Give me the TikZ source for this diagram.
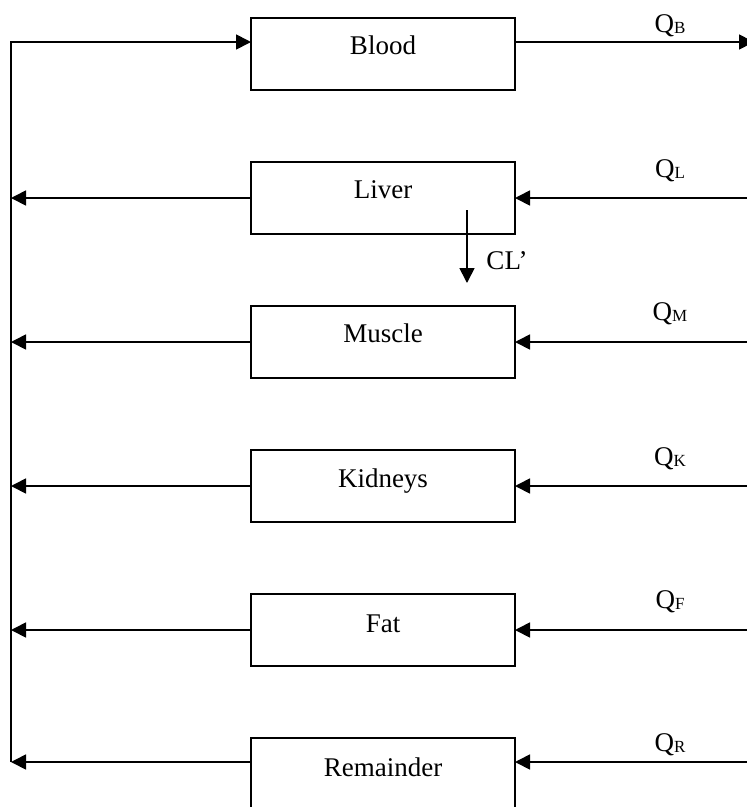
\documentclass[tikz,border=0pt]{standalone}
\usepackage{fontspec}
\setmainfont{Liberation Serif}
\usetikzlibrary{arrows.meta}
\newcommand\qsub[1]{Q\raisebox{-1.5pt}{\fontsize{17}{17}\selectfont #1}}
\begin{document}
\begin{tikzpicture}[x=1pt,y=-1pt,
  organ/.style={draw,line width=1.7pt,minimum width=264pt,minimum height=72pt,inner sep=0pt,outer sep=0pt},
  organname/.style={font=\fontsize{27}{30}\selectfont,anchor=base,inner sep=0pt},
  flow/.style={line width=1.7pt,-{Triangle[length=15pt,width=15pt]}},
  qlbl/.style={font=\fontsize{27}{30}\selectfont,anchor=base,inner sep=0pt}]
\useasboundingbox (0,0) rectangle (747,807);
\clip (0,0) rectangle (747,807);

% boxes
\node[organ] (blood)  at (383,54)  {};
\node[organ] (liver)  at (383,198) {};
\node[organ] (muscle) at (383,342) {};
\node[organ] (kidney) at (383,486) {};
\node[organ] (fat)    at (383,630) {};
\node[organ] (rem)    at (383,774) {};

% box texts
\node[organname] (tB) at (383,54)  {Blood};
\node[organname] (tL) at (383,198) {Liver};
\node[organname] (tM) at (383,342) {Muscle};
\node[organname] (tK) at (383,487) {Kidneys};
\node[organname] (tF) at (383,632) {Fat};
\node[organname] (tR) at (383,776) {Remainder};

% left collector line coordinates
\coordinate (vB) at (11,42);
\coordinate (vL) at (11,198);
\coordinate (vM) at (11,342);
\coordinate (vK) at (11,486);
\coordinate (vF) at (11,630);
\coordinate (vR) at (11,762);

% right-side inflow coordinates
\coordinate (oB) at (754,42);
\coordinate (iL) at (747,198);
\coordinate (iM) at (747,342);
\coordinate (iK) at (747,486);
\coordinate (iF) at (747,630);
\coordinate (iR) at (747,762);

% return to blood
\draw[flow] (vR) -- (vB) -- (vB -| blood.west);
% blood outflow
\draw[flow] (vB -| blood.east) -- (oB);

% organ outflows to collector
\draw[flow] (liver.west)  -- (vL);
\draw[flow] (muscle.west) -- (vM);
\draw[flow] (kidney.west) -- (vK);
\draw[flow] (fat.west)    -- (vF);
\draw[flow] (vR -| rem.west) -- (vR);

% inflows
\draw[flow] (iL) -- (liver.east);
\draw[flow] (iM) -- (muscle.east);
\draw[flow] (iK) -- (kidney.east);
\draw[flow] (iF) -- (fat.east);
\draw[flow] (iR) -- (iR -| rem.east);

% flow labels
\node[qlbl] (qB) at (670,32)  {\qsub{B}};
\node[qlbl] (qL) at (670,177) {\qsub{L}};
\node[qlbl] (qM) at (670,320) {\qsub{M}};
\node[qlbl] (qK) at (670,465) {\qsub{K}};
\node[qlbl] (qF) at (670,608) {\qsub{F}};
\node[qlbl] (qR) at (670,751) {\qsub{R}};

% clearance
\coordinate (clS) at (467,210);
\coordinate (clE) at (467,283);
\draw[flow] (clS) -- (clE);
\node[qlbl] (cl) at (507,269) {CL’};
\end{tikzpicture}
\end{document}
